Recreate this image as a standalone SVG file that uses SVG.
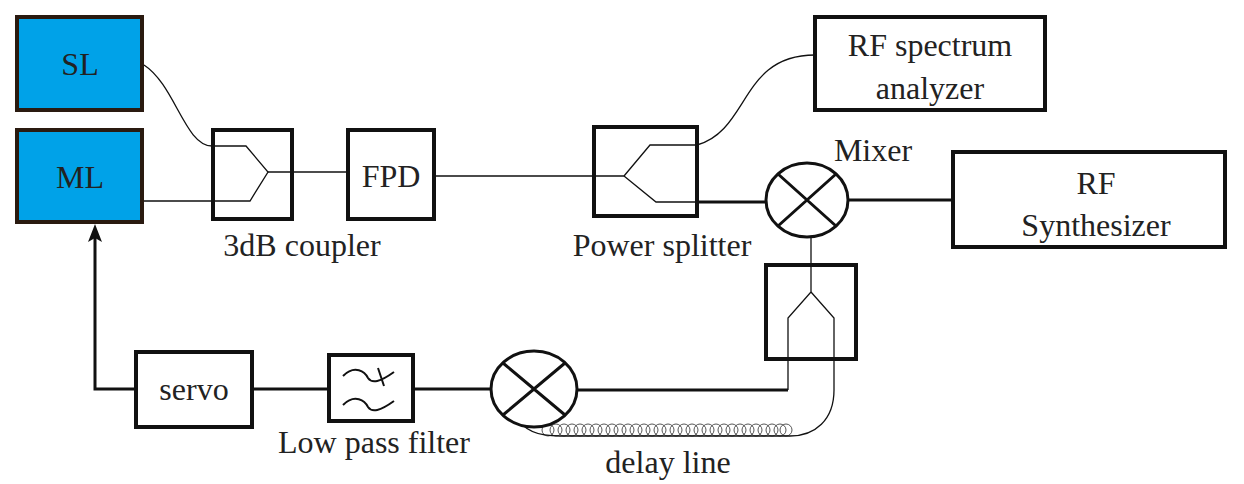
<svg xmlns="http://www.w3.org/2000/svg" width="1244" height="484" viewBox="0 0 1244 484">
<defs>
<style>
.b{fill:#fff;stroke:#111;stroke-width:4}
.bl{fill:#00a2e8;stroke:#2a1a10;stroke-width:4}
.t{font-family:'Liberation Serif','Times New Roman','DejaVu Serif',serif;font-size:32px;fill:#222;text-anchor:middle}
.th{fill:none;stroke:#111;stroke-width:1.3}
.tk{fill:none;stroke:#111;stroke-width:3}
.c{fill:none;stroke:#444;stroke-width:0.9}
</style>
</defs>
<g id="connectors">
<path class="th" d="M144,65 C175,85 185,146 212,146 L246,146 L268,172 L250,201 L142,201"/>
<path class="th" d="M268,172 L348,172"/>
<path class="th" d="M434,176 L624,176 L650,145 L697,145 C750,130 740,55 815,55"/>
<path class="th" d="M624,176 L656,202 L697,202"/>
<path class="tk" d="M697,202 L766,202"/>
<path class="tk" d="M848,200 L953,200"/>
<path class="th" d="M811,238 L811,292 L788,318 L788,390"/>
<path class="th" d="M811,292 L834,318 L834,390 C834,420 815,436 790,436"/>
<path class="tk" d="M788,390 L577,390"/>
<path class="tk" d="M491,389 L413,389 M329,389 L252,389 M136,389 L95,389 L95,236"/>
<path d="M88,242 L95,224 L102,242 L95,238 Z" fill="#111"/>
<g class="c">
<circle cx="548" cy="430" r="6"/><circle cx="556" cy="430" r="6"/><circle cx="564" cy="430" r="6"/><circle cx="572" cy="430" r="6"/><circle cx="580" cy="430" r="6"/><circle cx="588" cy="430" r="6"/><circle cx="596" cy="430" r="6"/><circle cx="604" cy="430" r="6"/><circle cx="612" cy="430" r="6"/><circle cx="620" cy="430" r="6"/><circle cx="628" cy="430" r="6"/><circle cx="636" cy="430" r="6"/><circle cx="644" cy="430" r="6"/><circle cx="652" cy="430" r="6"/><circle cx="660" cy="430" r="6"/><circle cx="668" cy="430" r="6"/><circle cx="676" cy="430" r="6"/><circle cx="684" cy="430" r="6"/><circle cx="692" cy="430" r="6"/><circle cx="700" cy="430" r="6"/><circle cx="708" cy="430" r="6"/><circle cx="716" cy="430" r="6"/><circle cx="724" cy="430" r="6"/><circle cx="732" cy="430" r="6"/><circle cx="740" cy="430" r="6"/><circle cx="748" cy="430" r="6"/><circle cx="756" cy="430" r="6"/><circle cx="764" cy="430" r="6"/><circle cx="772" cy="430" r="6"/><circle cx="780" cy="430" r="6"/><circle cx="786" cy="430" r="6"/>
</g>
<path class="th" d="M518,418 C525,434 545,436 560,436 L790,436"/>
</g>
<g id="SL"><rect class="bl" x="17" y="17" width="125" height="93"/><text class="t" x="80" y="75">SL</text></g>
<g id="ML"><rect class="bl" x="17" y="130" width="125" height="92"/><text class="t" x="80" y="188">ML</text></g>
<g id="coupler"><rect class="b" x="213" y="130" width="79" height="89" style="fill:none"/><text class="t" x="302" y="256">3dB coupler</text></g>
<g id="FPD"><rect class="b" x="348" y="130" width="86" height="89"/><text class="t" x="391" y="187">FPD</text></g>
<g id="splitter"><rect class="b" x="594" y="127" width="103" height="89" style="fill:none"/><text class="t" x="662" y="256">Power splitter</text></g>
<g id="analyzer"><rect class="b" x="815" y="17" width="230" height="93"/><text class="t" x="930" y="56">RF spectrum</text><text class="t" x="930" y="99">analyzer</text></g>
<g id="mixer"><ellipse class="b" cx="807" cy="200" rx="41" ry="37" style="stroke-width:3"/><path class="tk" d="M778,174 L836,226 M836,174 L778,226"/><text class="t" x="873" y="161">Mixer</text></g>
<g id="synth"><rect class="b" x="953" y="152" width="272" height="95"/><text class="t" x="1096" y="194">RF</text><text class="t" x="1096" y="236">Synthesizer</text></g>
<g id="delaybox"><rect class="b" x="766" y="265" width="90" height="94" style="fill:none"/></g>
<g id="servo"><rect class="b" x="136" y="352" width="116" height="75"/><text class="t" x="194" y="400">servo</text></g>
<g id="lpf"><rect class="b" x="329" y="355" width="84" height="66"/><path class="tk" style="stroke-width:2" d="M343,376 C355,364 365,372 368,378 C372,384 380,382 394,372 M378,368 L384,386 M343,405 C355,393 365,401 368,407 C372,413 380,411 394,401"/><text class="t" x="374" y="453">Low pass filter</text></g>
<g id="mixer2"><ellipse class="b" cx="534" cy="389" rx="43" ry="38" style="stroke-width:3"/><path class="tk" d="M503,363 L565,415 M565,363 L503,415"/></g>
<g id="delay"><text class="t" x="668" y="473">delay line</text></g>
</svg>
